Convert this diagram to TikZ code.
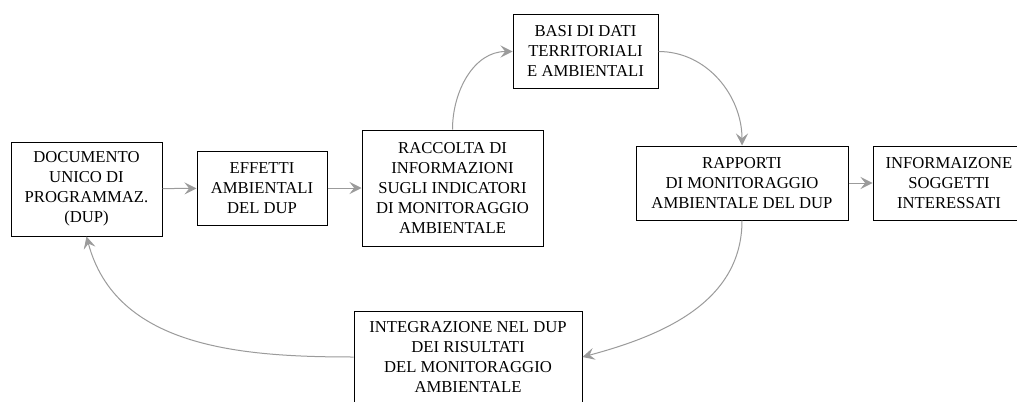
\documentclass[tikz,border=0pt]{standalone}
\usepackage{fontspec}
\setmainfont{Liberation Serif}
\usetikzlibrary{arrows.meta}
\definecolor{flowgray}{RGB}{155,155,155}
\begin{document}
\begin{tikzpicture}[x=0.75pt,y=0.75pt,
    box/.style={draw=black,line width=0.75pt,fill=white,inner sep=0pt,align=center,
      font=\fontsize{12.5pt}{15pt}\selectfont},
    boxsize/.style 2 args={minimum width=#1*0.75pt,minimum height=#2*0.75pt},
    flow/.style={draw=flowgray,line width=0.75pt,-{Stealth[length=9pt,width=9pt,inset=3.5pt]}}]
      \useasboundingbox[fill=white] (0,0) rectangle (1017,401);
      % boxes
      \node[box,boxsize={151}{94}] (dup) at (86.5,212) {DOCUMENTO\\UNICO DI\\PROGRAMMAZ.\\(DUP)};
      \node[box,boxsize={130}{74}] (effetti) at (262,213) {EFFETTI\\AMBIENTALI\\DEL DUP};
      \node[box,boxsize={181}{116}] (raccolta) at (452.5,213) {RACCOLTA DI\\INFORMAZIONI\\SUGLI INDICATORI\\DI MONITORAGGIO\\AMBIENTALE};
      \node[box,boxsize={145}{73}] (basi) at (585.5,349.5) {BASI DI DATI\\TERRITORIALI\\E AMBIENTALI};
      \node[box,boxsize={212}{74}] (rapporti) at (742,218) {RAPPORTI\\DI MONITORAGGIO\\AMBIENTALE DEL DUP};
      \node[box,boxsize={152}{74}] (informa) at (949,218) {INFORMAIZONE\\SOGGETTI\\INTERESSATI};
      \node[box,boxsize={228}{92}] (integra) at (468,44) {INTEGRAZIONE NEL DUP\\DEI RISULTATI\\DEL MONITORAGGIO\\AMBIENTALE};
      % connectors
      \draw[flow] (dup) -- (effetti);
      \draw[flow] (effetti) -- (raccolta);
      \draw[flow] (raccolta.north) to[out=90,in=180] (basi.west);
      \draw[flow] (basi.east) to[out=0,in=90] (rapporti.north);
      \draw[flow] (rapporti) -- (informa);
      \draw[flow] (rapporti.south) to[out=-90,in=15] (integra.east);
      \draw[flow] (integra.west) to[out=180,in=-75] (dup.south);
\end{tikzpicture}
\end{document}
